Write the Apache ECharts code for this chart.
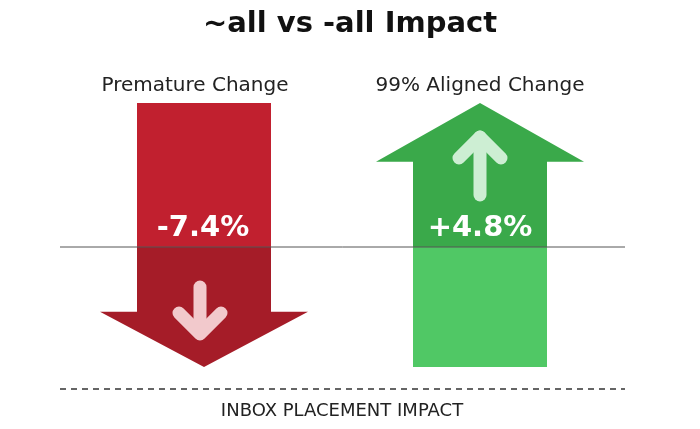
<!DOCTYPE html>
<html>
<head>
<meta charset="utf-8">
<script src="https://cdn.jsdelivr.net/npm/echarts@6/dist/echarts.min.js"></script>
<style>html,body{margin:0;background:#fff}#main{width:700px;height:429px}</style>
</head>
<body>
<div id="main"></div>
<script>
// data
var categories = ['Premature Change', '99% Aligned Change'];
var changes = [-7.4, 4.8];
// arrow extents on the hidden value axis: tail, head base, tip
var arrowTail = [12, -10];
var arrowHeadBase = [-5.4, 7.1];
var arrowTip = [-10, 12];

var colors = {
  down: { upper: '#c1202f', lower: '#a51c28', inner: '#f2c9cc' },
  up: { upper: '#3aa94a', lower: '#50c865', inner: '#cdeed3' }
};
var FONT = '"DejaVu Sans", sans-serif';

var myChart = echarts.init(document.getElementById('main'));

function renderArrow(params, api) {
  var idx = api.value(0);
  var v = api.value(1);
  var cx = api.coord([idx, 0])[0];
  var y0 = api.coord([idx, 0])[1];
  var yTail = api.coord([idx, api.value(2)])[1];
  var yBase = api.coord([idx, api.value(3)])[1];
  var yTip = api.coord([idx, api.value(4)])[1];
  var sw = 67, hw = 104;
  var c = v < 0 ? colors.down : colors.up;
  var kids = [];
  var innerStyle = { stroke: c.inner, lineWidth: 13, lineCap: 'round', lineJoin: 'round', fill: null };
  if (v < 0) {
    kids.push({ type: 'rect', shape: { x: cx - sw, y: yTail, width: sw * 2, height: y0 - yTail }, style: { fill: c.upper } });
    kids.push({ type: 'polygon', shape: { points: [[cx - sw, y0], [cx + sw, y0], [cx + sw, yBase], [cx + hw, yBase], [cx, yTip], [cx - hw, yBase], [cx - sw, yBase]] }, style: { fill: c.lower } });
    kids.push({ type: 'line', shape: { x1: cx - 4, y1: y0 + 40, x2: cx - 4, y2: y0 + 86 }, style: innerStyle });
    kids.push({ type: 'polyline', shape: { points: [[cx - 25, y0 + 66], [cx - 4, y0 + 87], [cx + 17, y0 + 66]] }, style: innerStyle });
  } else {
    kids.push({ type: 'polygon', shape: { points: [[cx, yTip], [cx + hw, yBase], [cx + sw, yBase], [cx + sw, y0], [cx - sw, y0], [cx - sw, yBase], [cx - hw, yBase]] }, style: { fill: c.upper } });
    kids.push({ type: 'rect', shape: { x: cx - sw, y: y0, width: sw * 2, height: yTail - y0 }, style: { fill: c.lower } });
    kids.push({ type: 'line', shape: { x1: cx, y1: y0 - 52, x2: cx, y2: y0 - 110 }, style: innerStyle });
    kids.push({ type: 'polyline', shape: { points: [[cx - 21, y0 - 89], [cx, y0 - 110], [cx + 21, y0 - 89]] }, style: innerStyle });
  }
  kids.push({ type: 'text', style: { text: (v > 0 ? '+' : '') + v.toFixed(1) + '%', x: cx - (v < 0 ? 1 : 0), y: y0 - 19, align: 'center', verticalAlign: 'middle', fill: '#fff', font: 'bold 29px ' + FONT } });
  kids.push({ type: 'text', style: { text: categories[idx], x: cx - (v < 0 ? 9 : 0), y: 86, align: 'center', verticalAlign: 'middle', fill: '#222', font: '20px ' + FONT } });
  return { type: 'group', children: kids };
}

var seriesData = categories.map(function (name, i) {
  return [i, changes[i], arrowTail[i], arrowHeadBase[i], arrowTip[i]];
});

var option = {
  animation: false,
  title: {
    text: '~all vs -all Impact',
    left: 'center',
    top: 5,
    textStyle: { fontSize: 29, fontWeight: 'bold', color: '#111', fontFamily: 'DejaVu Sans' }
  },
  grid: { left: 66, right: 82, top: 103, bottom: 62 },
  xAxis: { type: 'category', data: categories, show: false },
  yAxis: { type: 'value', min: -10, max: 12, show: false },
  series: [{
    type: 'custom',
    renderItem: renderArrow,
    data: seriesData,
    z: 2
  }],
  graphic: [
    { type: 'line', shape: { x1: 60, y1: 247, x2: 625, y2: 247 }, style: { stroke: '#555', lineWidth: 1 }, z: 10 },
    { type: 'line', shape: { x1: 60, y1: 389, x2: 625, y2: 389 }, style: { stroke: '#333', lineWidth: 1.5, lineDash: [6, 5] } },
    { type: 'text', style: { text: 'INBOX PLACEMENT IMPACT', x: 342, y: 411, align: 'center', verticalAlign: 'middle', fill: '#222', font: '18px ' + FONT } }
  ]
};
myChart.setOption(option);
</script>
</body>
</html>
